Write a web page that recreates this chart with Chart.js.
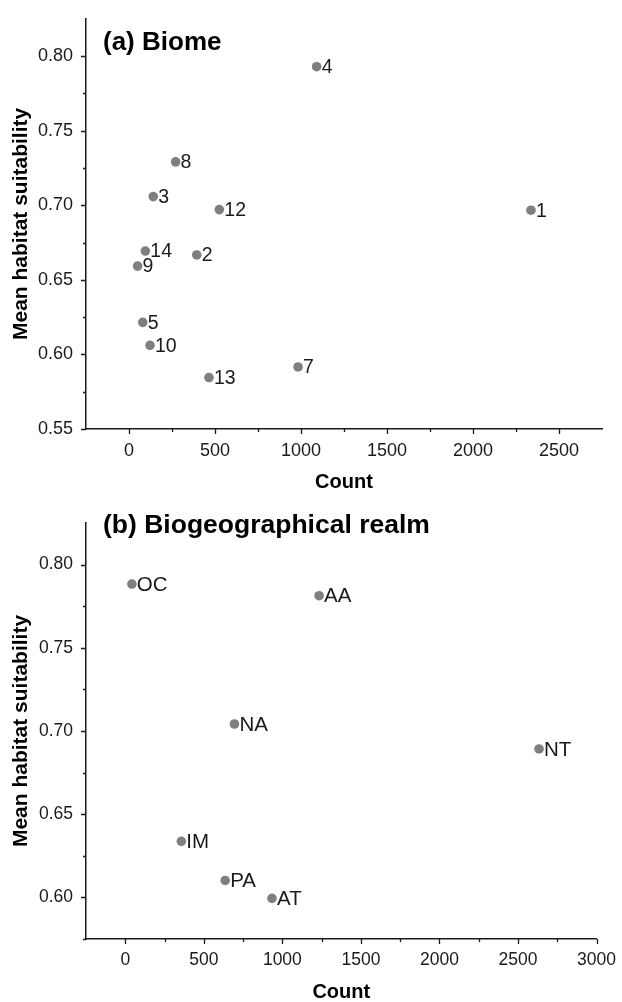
<!DOCTYPE html>
<html>
<head>
<meta charset="utf-8">
<script src="https://cdn.jsdelivr.net/npm/chart.js@4.4.1/dist/chart.umd.min.js"></script>
<style>
  html, body { margin: 0; padding: 0; background: #fff; overflow: hidden; }
  canvas { display: block; }
</style>
</head>
<body>
<canvas id="chartBiome" width="622" height="492"></canvas>
<canvas id="chartRealm" width="622" height="510"></canvas>
<script>
// panel (a): biome number, count, mean habitat suitability
const biomeLabels = ['1', '2', '3', '4', '5', '7', '8', '9', '10', '12', '13', '14'];
const biomeCount  = [2337, 394, 141, 1091, 80, 983, 271, 50, 122, 525, 465, 95];
const biomeSuit   = [0.6967, 0.6667, 0.7058, 0.7929, 0.6215, 0.5916, 0.7291, 0.6592, 0.6061, 0.6971, 0.5845, 0.6693];

// panel (b): biogeographical realm
const realmLabels = ['OC', 'AA', 'NA', 'NT', 'IM', 'PA', 'AT'];
const realmCount  = [42, 1234, 695, 2634, 357, 636, 934];
const realmSuit   = [0.7883, 0.7813, 0.7042, 0.6892, 0.6337, 0.6102, 0.5994];

// axis ranges
const biomeX = [-250, 2750];
const biomeY = [0.55, 0.825];
const realmX = [-250, 3000];
const realmY = [0.575, 0.825];

const ink = '#1a1a1a';
const dot = '#7f7f7f';
const family = "'Liberation Sans', Arial, Helvetica, sans-serif";
Chart.defaults.font.family = family;
Chart.defaults.color = ink;

const isMajor = (v, step) => Math.abs(v / step - Math.round(v / step)) < 1e-6;

// outward tick marks: long at labelled values, short in between
const tickMarks = {
  id: 'tickMarks',
  afterDraw(chart) {
    const ctx = chart.ctx;
    const xs = chart.scales.x, ys = chart.scales.y;
    ctx.save();
    ctx.strokeStyle = ink;
    ctx.lineWidth = 1.3;
    ctx.beginPath();
    xs.ticks.forEach(t => {
      const major = isMajor(t.value, 500);
      if (!major && (t.value === xs.min || t.value === xs.max)) return;
      const px = Math.round(xs.getPixelForValue(t.value)) + 0.5;
      ctx.moveTo(px, xs.top); ctx.lineTo(px, xs.top + (major ? 5 : 3));
    });
    ys.ticks.forEach(t => {
      const major = isMajor(t.value, 0.05);
      if (!major && t.value === ys.max) return;
      const py = Math.round(ys.getPixelForValue(t.value)) + 0.5;
      ctx.moveTo(ys.right, py); ctx.lineTo(ys.right - (major ? 5 : 3), py);
    });
    ctx.stroke();
    ctx.restore();
  }
};

// text next to each point
const pointLabels = {
  id: 'pointLabels',
  afterDatasetsDraw(chart, args, opts) {
    const ctx = chart.ctx;
    const meta = chart.getDatasetMeta(0);
    ctx.save();
    ctx.font = opts.size + 'px ' + family;
    ctx.fillStyle = ink;
    ctx.textAlign = 'left';
    ctx.textBaseline = 'middle';
    meta.data.forEach((el, i) => ctx.fillText(opts.labels[i], el.x + 5, el.y + 1));
    ctx.restore();
  }
};

// "(a) Biome" style heading inside the plot
const panelTitle = {
  id: 'panelTitle',
  afterDraw(chart, args, opts) {
    const ctx = chart.ctx;
    ctx.save();
    ctx.font = 'bold ' + opts.size + 'px ' + family;
    ctx.fillStyle = '#000';
    ctx.textAlign = 'left';
    ctx.textBaseline = 'alphabetic';
    ctx.fillText(opts.text, chart.chartArea.left + opts.dx, chart.chartArea.top + opts.dy);
    ctx.restore();
  }
};

function makeChart(el, o) {
  return new Chart(el, {
    type: 'scatter',
    data: {
      datasets: [{
        data: o.xs.map((x, i) => ({ x: x, y: o.ys[i] })),
        backgroundColor: dot,
        borderColor: dot,
        pointRadius: 4.8,
        pointHoverRadius: 4.8,
        borderWidth: 0
      }]
    },
    options: {
      responsive: false,
      animation: false,
      layout: { padding: { left: 0, right: 20, top: o.top, bottom: 0 } },
      plugins: {
        legend: { display: false },
        tooltip: { enabled: false },
        pointLabels: { labels: o.labels, size: o.labelSize },
        panelTitle: { text: o.title, size: o.titleSize, dx: 17, dy: o.titleDy }
      },
      scales: {
        x: {
          type: 'linear',
          min: o.xRange[0], max: o.xRange[1],
          afterFit: s => { s.height = o.xHeight; },
          border: { display: true, color: ink, width: 1.5 },
          grid: { display: false, drawTicks: true, tickLength: 5 },
          ticks: {
            stepSize: 250, autoSkip: false, maxRotation: 0, padding: 6,
            font: { size: o.tickSize }, color: ink,
            callback: v => (isMajor(v, 500) ? String(v) : '')
          },
          title: {
            display: true, text: 'Count', color: '#000',
            font: { size: 20, weight: 'bold', lineHeight: 1 },
            padding: { top: 0, bottom: 0 }
          }
        },
        y: {
          type: 'linear',
          min: o.yRange[0], max: o.yRange[1],
          afterFit: s => { s.width = 86; },
          border: { display: true, color: ink, width: 1.5 },
          grid: { display: false, drawTicks: true, tickLength: 5 },
          ticks: {
            stepSize: 0.025, autoSkip: false, padding: 8,
            font: { size: o.tickSize }, color: ink,
            callback: v => (isMajor(v, 0.05) ? v.toFixed(2) : '')
          },
          title: {
            display: true, text: 'Mean habitat suitability', color: '#000',
            font: { size: 21, weight: 'bold', lineHeight: 1 },
            padding: { top: 11, bottom: 0 }
          }
        }
      }
    },
    plugins: [tickMarks, pointLabels, panelTitle]
  });
}

makeChart(document.getElementById('chartBiome'), {
  xs: biomeCount, ys: biomeSuit, labels: biomeLabels,
  xRange: biomeX, yRange: biomeY,
  top: 13, xHeight: 63, tickSize: 18, labelSize: 19.5,
  title: '(a) Biome', titleSize: 26, titleDy: 31
});

makeChart(document.getElementById('chartRealm'), {
  xs: realmCount, ys: realmSuit, labels: realmLabels,
  xRange: realmX, yRange: realmY,
  top: 31, xHeight: 63, tickSize: 17.5, labelSize: 20.5,
  title: '(b) Biogeographical realm', titleSize: 26.5, titleDy: 10
});
</script>
</body>
</html>
